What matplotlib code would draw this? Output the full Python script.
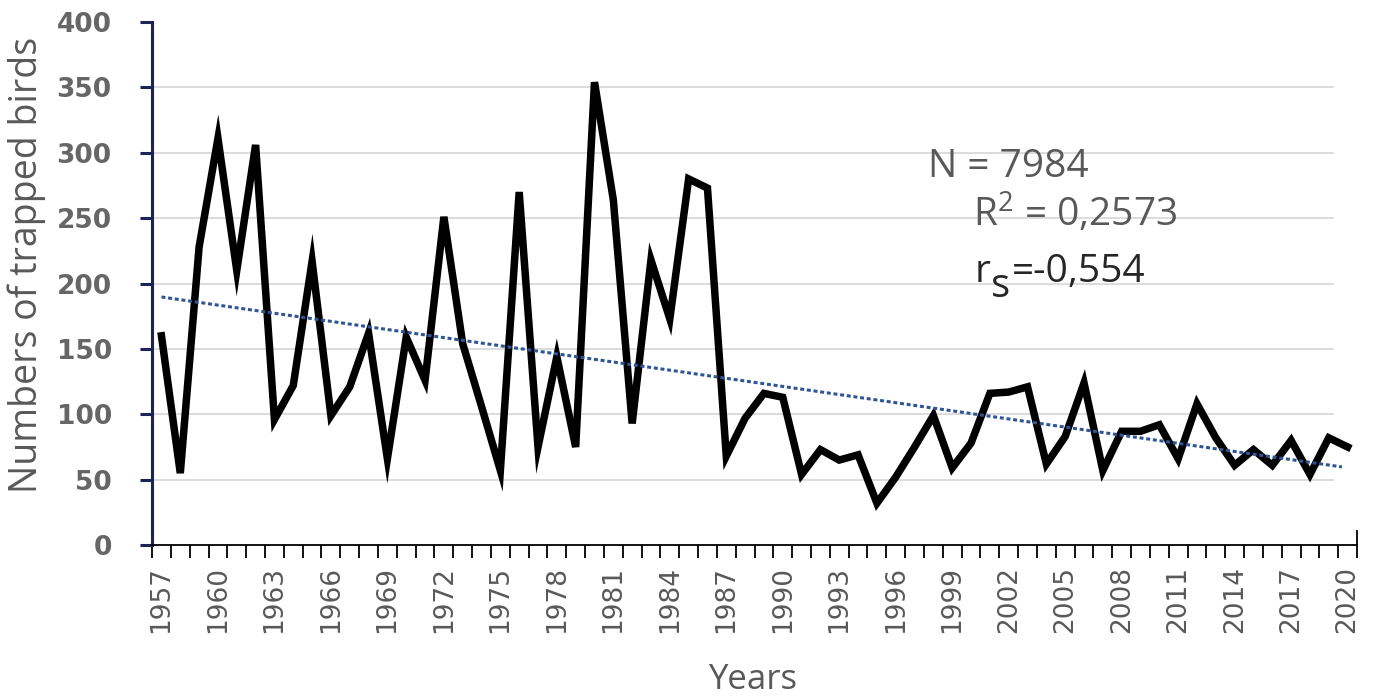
import matplotlib
matplotlib.use("Agg")
import matplotlib.pyplot as plt
import matplotlib.transforms as mtransforms
import numpy as np

years = list(range(1957, 2021))
birds = [160, 55, 228, 311, 210, 306, 96, 122, 217, 99,
         121, 162, 66, 159, 126, 251, 154, 106, 57, 270,
         75, 144, 75, 354, 264, 93, 218, 173, 280, 273,
         68, 97, 116, 113, 54, 73, 65, 69, 32, 52,
         75, 99, 59, 78, 116, 117, 121, 62, 83, 124,
         57, 87, 87, 92, 66, 108, 82, 61, 73, 61,
         80, 54, 82, 75]
yticks = [0, 50, 100, 150, 200, 250, 300, 350, 400]
gridvals = [50, 100, 150, 200, 250, 300, 350]
label_years = years[::3]
n_text = "N = 7984"
r2_text = "R$^\\mathregular{2}$ = 0,2573"
rs_parts = ["r", "s", "=-0,554"]

plt.rcParams['font.family'] = ['Open Sans', 'DejaVu Sans']
plt.rcParams['mathtext.fontset'] = 'custom'
plt.rcParams['mathtext.rm'] = 'Open Sans'

fig = plt.figure(figsize=(13.76, 6.97), dpi=100)
ax = fig.add_axes([0.1105, 0.218, 0.8757, 0.7504])

x = np.arange(len(years))
ax.plot(x, birds, color='black', lw=5.4, solid_joinstyle='miter', zorder=3)

# linear trendline computed from the data
coef = np.polyfit(x, birds, 1)
xt = np.array([0, len(years) - 1.3])
ax.plot(xt, np.polyval(coef, xt), color='#2f5597', lw=2.2,
        linestyle=(0, (1.3, 0.9)), zorder=4)

ax.set_xlim(-0.5, len(years) - 0.5)
ax.set_ylim(0, 400)

for g in gridvals:
    ax.axhline(g, xmin=0, xmax=0.98, color='#d9d9d9', lw=1.3, zorder=1)

ax.set_yticks(yticks)
ax.set_yticklabels([str(v) for v in yticks], fontsize=19, color='#666666',
                   fontweight='bold', family='DejaVu Sans')

# x: labels at category centers, tick marks at category boundaries
ax.set_xticks([years.index(y) for y in label_years])
ax.set_xticklabels([str(y) for y in label_years], rotation=90, fontsize=19,
                   color='#595959', family='DejaVu Sans')
ax.set_xticks(np.arange(-0.5, len(years), 1), minor=True)
ax.tick_params(axis='x', which='major', length=0, pad=15)
ax.tick_params(axis='x', which='minor', length=9, width=1.3, color='black',
               direction='out')
ax.tick_params(axis='y', which='major', length=9, width=2.2, color='#1c2457',
               pad=20)

ax.spines['top'].set_visible(False)
ax.spines['left'].set_color('#1c2457')
ax.spines['left'].set_linewidth(2.2)
ax.spines['bottom'].set_color('black')
ax.spines['bottom'].set_linewidth(1.3)
ax.spines['right'].set_bounds(0, 11)
ax.spines['right'].set_color('black')
ax.spines['right'].set_linewidth(1.3)

ax.set_ylabel("Numbers of trapped birds", fontsize=27, color='#595959')
ax.yaxis.set_label_coords(-0.088, 0.535)
ax.set_xlabel("Years", fontsize=25, color='#595959')
ax.xaxis.set_label_coords(0.498, -0.226)

ax.text(0.644, 0.704, n_text, transform=ax.transAxes, fontsize=28,
        color='#595959', va='baseline')
ax.text(0.681, 0.609, r2_text, transform=ax.transAxes, fontsize=28,
        color='#595959', va='baseline')

# r_s line built from pieces so the subscript keeps a large size
fig.canvas.draw()
renderer = fig.canvas.get_renderer()
t_r = ax.text(0.683, 0.503, rs_parts[0], transform=ax.transAxes, fontsize=28,
              color='#262626', va='baseline')
w_r = t_r.get_window_extent(renderer).width
off_s = mtransforms.offset_copy(ax.transAxes, fig=fig, x=w_r * 1.0,
                                y=-15, units='dots')
t_s = ax.text(0.683, 0.503, rs_parts[1], transform=off_s, fontsize=29,
              color='#262626', va='baseline')
w_s = t_s.get_window_extent(renderer).width
off_e = mtransforms.offset_copy(ax.transAxes, fig=fig, x=w_r * 1.0 + w_s + 2,
                                y=0, units='dots')
ax.text(0.683, 0.503, rs_parts[2], transform=off_e, fontsize=28,
        color='#262626', va='baseline')

fig.savefig("out.png", dpi=100, facecolor='white')
